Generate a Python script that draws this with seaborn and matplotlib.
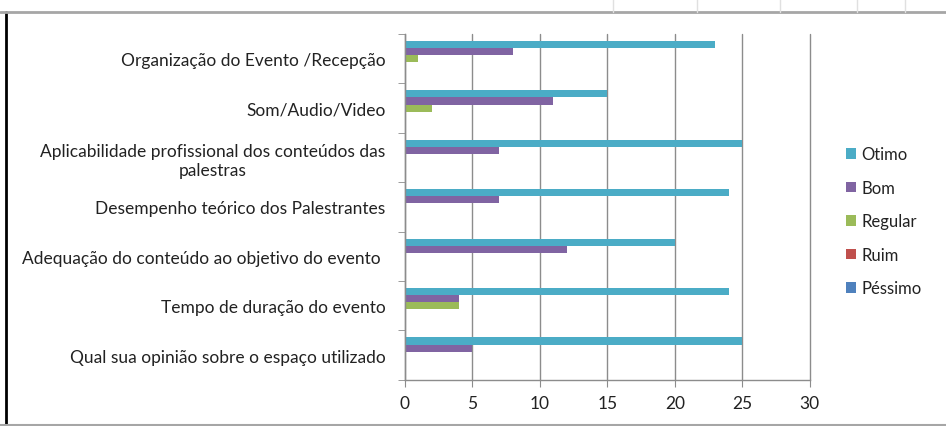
import pandas as pd
import seaborn as sns
import matplotlib.pyplot as plt
from matplotlib.lines import Line2D
from matplotlib.patches import Patch

categorias = [
    'Organização do Evento /Recepção',
    'Som/Audio/Video',
    'Aplicabilidade profissional dos conteúdos das\npalestras',
    'Desempenho teórico dos Palestrantes',
    'Adequação do conteúdo ao objetivo do evento ',
    'Tempo de duração do evento',
    'Qual sua opinião sobre o espaço utilizado',
]
otimo = [23, 15, 25, 24, 20, 24, 25]
bom = [8, 11, 7, 7, 12, 4, 5]
regular = [1, 2, 0, 0, 0, 4, 0]
ruim = [0, 0, 0, 0, 0, 0, 0]
pessimo = [0, 0, 0, 0, 0, 0, 0]
series = ['Otimo', 'Bom', 'Regular', 'Ruim', 'Péssimo']
cores = ['#4BACC6', '#8064A2', '#9BBB59', '#C0504D', '#4F81BD']


def main():
    df = pd.DataFrame({'categoria': categorias, 'Otimo': otimo, 'Bom': bom,
                       'Regular': regular, 'Ruim': ruim, 'Péssimo': pessimo})
    longo = df.melt(id_vars='categoria', var_name='serie', value_name='valor')

    sns.set_style('white')
    plt.rcParams['font.family'] = ['Lato', 'DejaVu Sans']

    fig = plt.figure(figsize=(9.46, 4.27), dpi=100)
    ax = fig.add_axes([0.428, 0.108, 0.428, 0.810])

    sns.barplot(data=longo, y='categoria', x='valor', hue='serie',
                order=categorias, hue_order=series, palette=cores,
                orient='h', width=0.72, saturation=1, errorbar=None,
                legend=False, ax=ax, linewidth=0)

    ax.set_xlim(0, 30)
    ax.set_ylim(len(categorias) - 0.5, -0.5)
    ax.set_xticks(range(0, 31, 5))
    ax.grid(axis='x', color='#8c8c8c', linewidth=1)
    for gl in ax.get_xgridlines():
        gl.set_clip_on(False)
    ax.set_axisbelow(True)
    ax.set_xlabel('')
    ax.set_ylabel('')

    for s in ['top', 'right']:
        ax.spines[s].set_visible(False)
    for s in ['left', 'bottom']:
        ax.spines[s].set_color('#8c8c8c')
        ax.spines[s].set_linewidth(1)

    ax.tick_params(axis='x', length=5, color='#8c8c8c', labelsize=12.5,
                   labelcolor='#222222', bottom=True, direction='out', pad=6)
    ax.tick_params(axis='y', which='major', length=0, labelsize=12.5,
                   labelcolor='#222222', pad=14)
    ax.set_yticks([i - 0.5 for i in range(len(categorias) + 1)], minor=True)
    ax.tick_params(axis='y', which='minor', length=5, color='#8c8c8c',
                   left=True, direction='out')
    for lab in ax.get_yticklabels():
        lab.set_multialignment('center')

    handles = [Patch(facecolor=c, edgecolor='none') for c in cores]
    fig.legend(handles, series, loc='upper left', bbox_to_anchor=(0.878, 0.69),
               frameon=False, fontsize=12, handlelength=0.6, handleheight=0.6,
               handletextpad=0.35, labelspacing=1.05, labelcolor='#222222')

    # moldura da captura
    fig.add_artist(Line2D([6 / 946, 6 / 946], [0, 1 - 13 / 427],
                          transform=fig.transFigure, color='black', linewidth=2))
    fig.add_artist(Line2D([0, 1], [1 - 13 / 427, 1 - 13 / 427],
                          transform=fig.transFigure, color='#a6a6a6', linewidth=2))
    fig.add_artist(Line2D([0, 1], [1 / 427, 1 / 427],
                          transform=fig.transFigure, color='#a6a6a6', linewidth=1.5))
    for xp in [613, 697, 780, 857, 905]:
        fig.add_artist(Line2D([xp / 946, xp / 946], [1 - 13 / 427, 1],
                              transform=fig.transFigure, color='#e0e0e0', linewidth=1))

    fig.savefig('out.png', dpi=100, facecolor='white')


if __name__ == "__main__":
    main()
